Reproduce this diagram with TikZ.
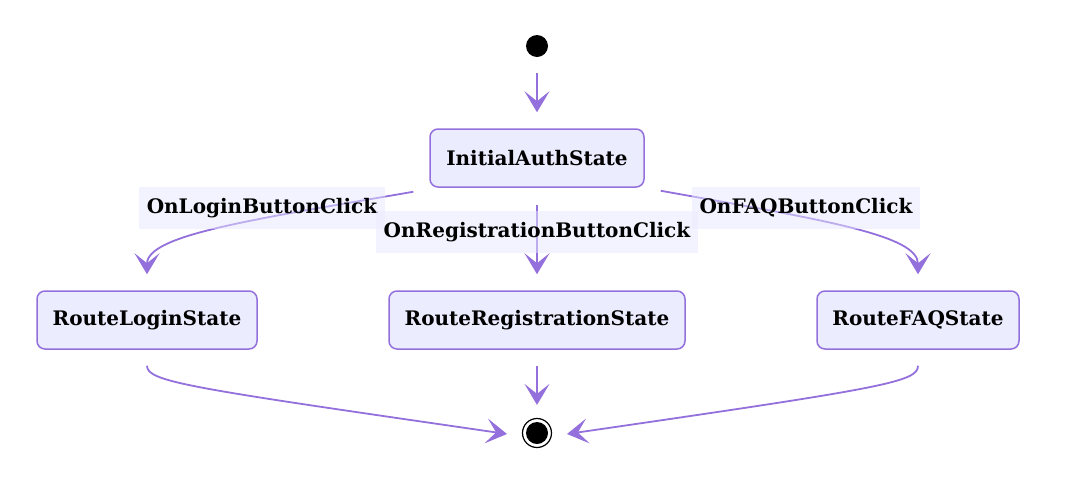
\documentclass[tikz,border=0pt]{standalone}
\usepackage{fontspec}
\setmainfont{DejaVu Serif}
\usetikzlibrary{arrows.meta}
\definecolor{stateline}{HTML}{9370DB}
\definecolor{statefill}{HTML}{ECECFF}
\definecolor{labelfill}{HTML}{E8E8FF}
\tikzset{
  state/.style={draw=stateline, fill=statefill, line width=1.5pt, rounded corners=8pt,
    minimum height=58pt, font=\fontsize{20}{24}\selectfont\bfseries},
  trigger/.style={fill=labelfill, fill opacity=0.5, text opacity=1, minimum height=42pt,
    inner xsep=8pt, font=\fontsize{20}{24}\selectfont\bfseries},
  transition/.style={draw=stateline, line width=1.8pt,
    -{Stealth[length=21pt,width=25pt,inset=10pt]}},
}
\begin{document}
\begin{tikzpicture}[x=1pt,y=-1pt]
\useasboundingbox (0,0) rectangle (1069,491);
% start and end
\node[circle, fill=black, minimum size=22pt, inner sep=0pt] (start) at (537,46) {};
\node[circle, draw=black, line width=1.2pt, minimum size=29pt, inner sep=0pt] (stop) at (537,433) {};
\fill[black] (stop) circle (11pt);
% states
\node[state, minimum width=214pt] (init) at (537,158) {InitialAuthState};
\node[state, minimum width=220pt] (login) at (147,320) {RouteLoginState};
\node[state, minimum width=296pt] (reg) at (537,320) {RouteRegistrationState};
\node[state, minimum width=202pt] (faq) at (918,320) {RouteFAQState};
% transitions
\draw[transition, shorten <=16pt, shorten >=16pt] (start) -- (init);
\draw[transition] ([xshift=-16pt,yshift=-4pt]init.south west) .. controls (250,220) and (147,235) .. ([yshift=16pt]login.north);
\draw[transition, shorten <=17pt, shorten >=16pt] (init) -- (reg);
\draw[transition] ([xshift=16pt,yshift=-3pt]init.south east) .. controls (824,220) and (918,235) .. ([yshift=16pt]faq.north);
\draw[transition] ([yshift=-16pt]login.south) .. controls (147,382) and (190,388) .. ([xshift=-30pt,yshift=-1pt]stop.center);
\draw[transition, shorten <=16pt, shorten >=13pt] (reg) -- (stop);
\draw[transition] ([yshift=-16pt]faq.south) .. controls (918,382) and (884,388) .. ([xshift=30pt,yshift=-1pt]stop.center);
% labels
\node[trigger] (loginlbl) at (262,208) {OnLoginButtonClick};
\node[trigger] (reglbl) at (537,232) {OnRegistrationButtonClick};
\node[trigger] (faqlbl) at (806,208) {OnFAQButtonClick};
\end{tikzpicture}
\end{document}
